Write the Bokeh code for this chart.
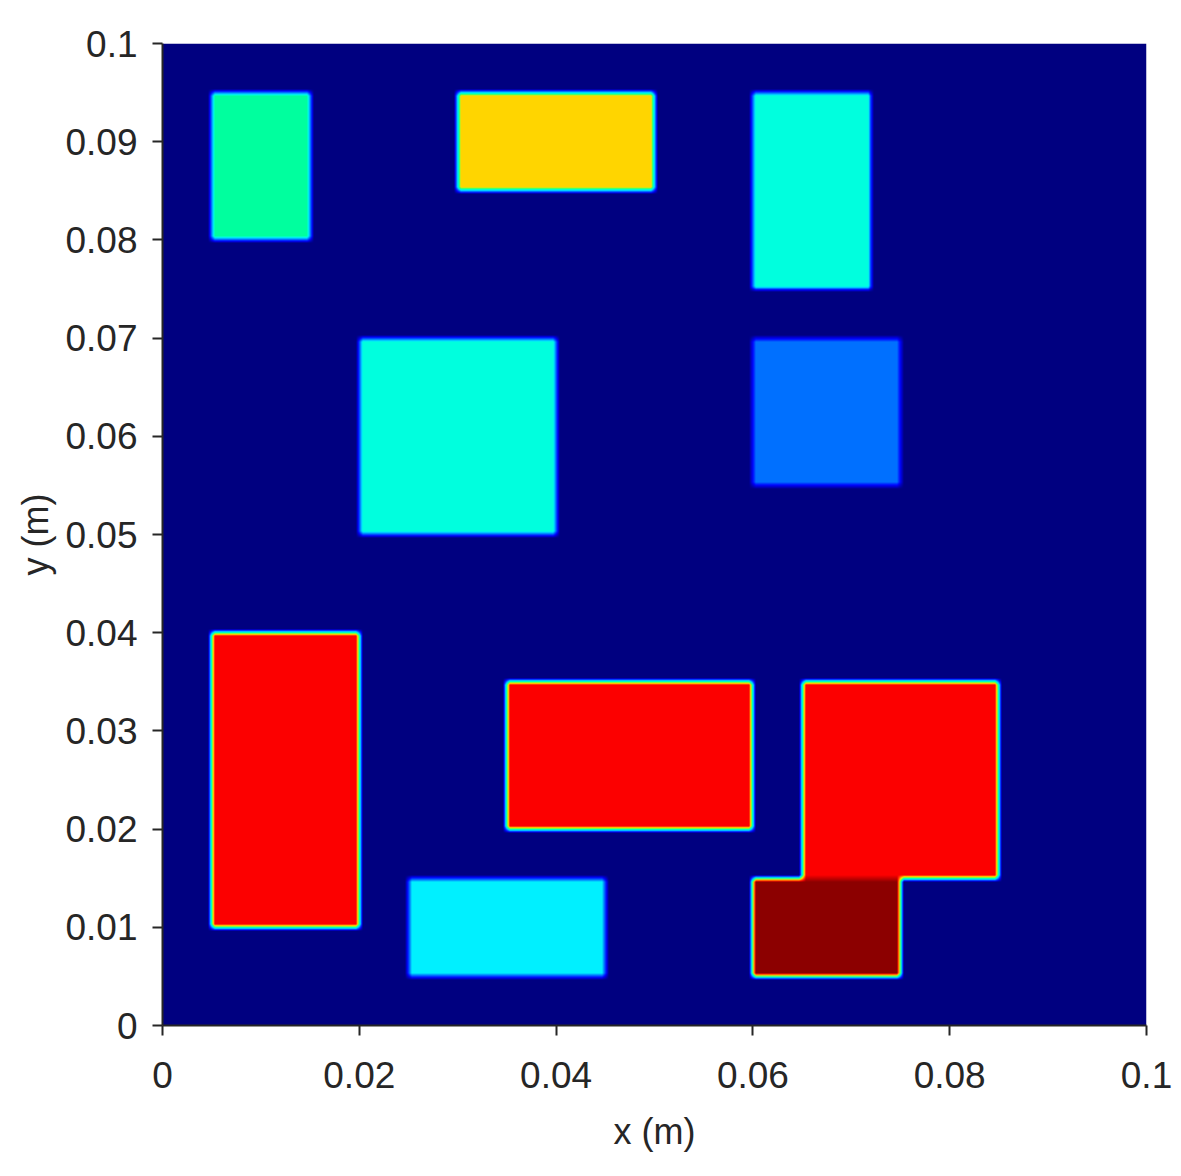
import numpy as np
from bokeh.plotting import figure
from bokeh.models import Range1d, FixedTicker, LinearColorMapper, CustomJSTickFormatter
from bokeh.embed import file_html
from bokeh.resources import INLINE

# ---- data: rectangles (m) and their field values (0..1 on the jet-like scale)
rect_x0 = [0.005, 0.030, 0.060, 0.020, 0.060, 0.005, 0.035, 0.065, 0.025, 0.060]
rect_x1 = [0.015, 0.050, 0.072, 0.040, 0.075, 0.020, 0.060, 0.085, 0.045, 0.075]
rect_y0 = [0.080, 0.085, 0.075, 0.050, 0.055, 0.010, 0.020, 0.015, 0.005, 0.005]
rect_y1 = [0.095, 0.095, 0.095, 0.070, 0.070, 0.040, 0.035, 0.035, 0.015, 0.015]
rect_val = [0.47, 0.666, 0.41, 0.41, 0.235, 0.875, 0.875, 0.875, 0.36, 0.985]
background_val = 0.0

x_ticks = [0.0, 0.02, 0.04, 0.06, 0.08, 0.1]
x_tick_labels = ["0", "0.02", "0.04", "0.06", "0.08", "0.1"]
y_ticks = [0.0, 0.01, 0.02, 0.03, 0.04, 0.05, 0.06, 0.07, 0.08, 0.09, 0.1]
y_tick_labels = ["0", "0.01", "0.02", "0.03", "0.04", "0.05", "0.06", "0.07", "0.08", "0.09", "0.1"]

# ---- build field image on a fine grid
L = 0.1
N = 1000
c = (np.arange(N) + 0.5) * (L / N)
X, Y = np.meshgrid(c, c)
field = np.full((N, N), background_val)
for x0, x1, y0, y1, v in zip(rect_x0, rect_x1, rect_y0, rect_y1, rect_val):
    field[(X >= x0) & (X <= x1) & (Y >= y0) & (Y <= y1)] = v

# slight smoothing of edges (interpolated shading look)
def box_blur(a, k):
    pad = k // 2
    b = np.pad(a, pad, mode="edge")
    cs = np.cumsum(b, axis=0)
    cs = np.vstack([np.zeros((1, cs.shape[1])), cs])
    b = (cs[k:] - cs[:-k]) / k
    cs = np.cumsum(b, axis=1)
    cs = np.hstack([np.zeros((cs.shape[0], 1)), cs])
    return (cs[:, k:] - cs[:, :-k]) / k

field = box_blur(field, 7)

# ---- jet-like palette
anchors = [(0.0, (0, 0, 128)), (0.125, (0, 0, 255)), (0.375, (0, 255, 255)),
           (0.5, (0, 255, 128)), (0.625, (255, 255, 0)), (0.875, (255, 0, 0)),
           (1.0, (128, 0, 0))]
pal = []
ts = [a[0] for a in anchors]
for i in range(256):
    t = i / 255
    rgb = [int(round(np.interp(t, ts, [a[1][k] for a in anchors]))) for k in range(3)]
    pal.append("#%02x%02x%02x" % tuple(rgb))
mapper = LinearColorMapper(palette=pal, low=0, high=1)

p = figure(output_backend="svg", toolbar_location=None,
           x_range=Range1d(0, L), y_range=Range1d(0, L),
           frame_width=984, frame_height=982,
           min_border_left=162, min_border_right=27,
           min_border_top=43, min_border_bottom=143)
p.image(image=[field], x=0, y=0, dw=L, dh=L, color_mapper=mapper)

p.grid.visible = False
p.outline_line_color = None
p.background_fill_color = "white"

fmt_code = """
const i = tv.findIndex(t => Math.abs(t - tick) < 1e-9);
return i >= 0 ? tl[i] : '';
"""
p.xaxis.ticker = FixedTicker(ticks=x_ticks)
p.yaxis.ticker = FixedTicker(ticks=y_ticks)
p.xaxis.formatter = CustomJSTickFormatter(args=dict(tv=x_ticks, tl=x_tick_labels), code=fmt_code)
p.yaxis.formatter = CustomJSTickFormatter(args=dict(tv=y_ticks, tl=y_tick_labels), code=fmt_code)
p.xaxis.axis_label = "x (m)"
p.yaxis.axis_label = "y (m)"

for ax in (p.xaxis, p.yaxis):
    ax.axis_line_color = "#262626"
    ax.axis_line_width = 2
    ax.major_tick_line_color = "#262626"
    ax.major_tick_line_width = 2
    ax.major_tick_out = 10
    ax.major_tick_in = 0
    ax.minor_tick_line_color = None
    ax.major_label_text_font = "Liberation Sans"
    ax.major_label_text_font_size = "37px"
    ax.major_label_text_color = "#262626"
    ax.axis_label_text_font = "Liberation Sans"
    ax.axis_label_text_font_size = "36px"
    ax.axis_label_text_font_style = "normal"
    ax.axis_label_text_color = "#262626"

p.xaxis.major_label_standoff = 26
p.yaxis.major_label_standoff = 15
p.xaxis.axis_label_standoff = 20
p.yaxis.axis_label_standoff = 6

open("out.html", "w").write(file_html(p, INLINE))
